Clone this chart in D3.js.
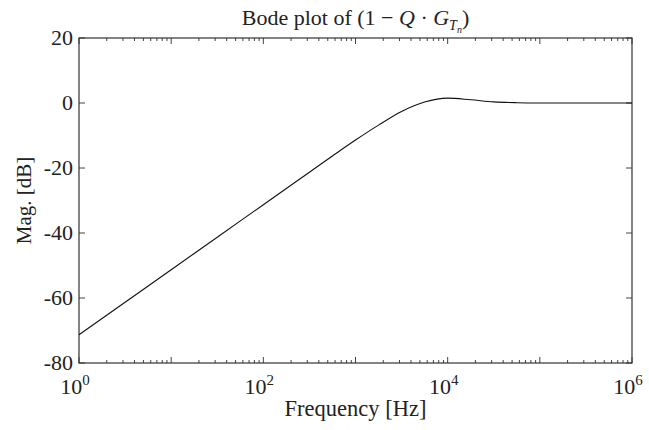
<!DOCTYPE html>
<html>
<head>
<meta charset="utf-8">
<script src="https://cdn.jsdelivr.net/npm/d3@7"></script>
<style>
  body { margin: 0; background: #fff; }
  text { font-family: "Liberation Serif", "DejaVu Serif", serif; fill: #222; }
</style>
</head>
<body>
<div id="chart"></div>
<script>
// magnitude: log10(frequency) -> dB
var logFreq = [0, 0.5, 1, 1.5, 2, 2.5, 2.75, 3, 3.25, 3.5, 3.75, 4, 4.25, 4.5, 4.75, 5, 5.5, 6];
var magDb = [-71.3, -61.3, -51.3, -41.3, -31.3, -21.3, -16.3, -11.4, -6.8, -2.6, 0.3, 1.5, 1.0, 0.35, 0.1, 0.02, 0, 0];
var yTicks = [20, 0, -20, -40, -60, -80];
var xTickExp = [0, 2, 4, 6];

var width = 649, height = 430;
var margin = { top: 38, right: 17, bottom: 67, left: 79 };

var svg = d3.select("#chart").append("svg")
    .attr("width", width)
    .attr("height", height);

var x = d3.scaleLog()
    .domain([1, 1e6])
    .range([margin.left, width - margin.right]);

var y = d3.scaleLinear()
    .domain([-80, 20])
    .range([height - margin.bottom, margin.top]);

var data = logFreq.map(function (d, i) { return { f: Math.pow(10, d), v: magDb[i] }; });

// minor ticks for the log axis
var minor = [];
for (var e = 0; e < 6; e++) {
    for (var k = 2; k <= 9; k++) minor.push(k * Math.pow(10, e));
}
var major = [1, 10, 100, 1e3, 1e4, 1e5, 1e6];

var tickColor = "#444";
var g = svg.append("g");

// major + minor x ticks, bottom and top, pointing inward
[[y.range()[0], -1], [y.range()[1], 1]].forEach(function (edge) {
    g.selectAll(null).data(major).enter().append("line")
        .attr("x1", function (d) { return x(d); })
        .attr("x2", function (d) { return x(d); })
        .attr("y1", edge[0])
        .attr("y2", edge[0] + edge[1] * 6)
        .attr("stroke", tickColor);
    g.selectAll(null).data(minor).enter().append("line")
        .attr("x1", function (d) { return x(d); })
        .attr("x2", function (d) { return x(d); })
        .attr("y1", edge[0])
        .attr("y2", edge[0] + edge[1] * 3)
        .attr("stroke", tickColor);
});

// y ticks, left and right
[[x.range()[0], 1], [x.range()[1], -1]].forEach(function (edge) {
    g.selectAll(null).data(yTicks).enter().append("line")
        .attr("x1", edge[0])
        .attr("x2", edge[0] + edge[1] * 6)
        .attr("y1", function (d) { return y(d); })
        .attr("y2", function (d) { return y(d); })
        .attr("stroke", tickColor);
});

// frame
svg.append("rect")
    .attr("x", x.range()[0])
    .attr("y", y.range()[1])
    .attr("width", x.range()[1] - x.range()[0])
    .attr("height", y.range()[0] - y.range()[1])
    .attr("fill", "none")
    .attr("stroke", "#333")
    .attr("stroke-width", 1.2);

// y tick labels
svg.selectAll(".ylab").data(yTicks).enter().append("text")
    .attr("class", "ylab")
    .attr("x", x.range()[0] - 6)
    .attr("y", function (d) { return y(d) + 7; })
    .attr("text-anchor", "end")
    .attr("font-size", 22)
    .text(function (d) { return d; });

// x tick labels 10^n
var xl = svg.selectAll(".xlab").data(xTickExp).enter().append("text")
    .attr("class", "xlab")
    .attr("x", function (d) { return x(Math.pow(10, d)) - 4; })
    .attr("y", y.range()[0] + 31)
    .attr("text-anchor", "middle")
    .attr("font-size", 22);
xl.append("tspan").text("10");
xl.append("tspan").attr("dy", -9).attr("font-size", 15).text(function (d) { return d; });

// curve
var line = d3.line()
    .x(function (d) { return x(d.f); })
    .y(function (d) { return y(d.v); })
    .curve(d3.curveMonotoneX);

svg.append("path")
    .datum(data)
    .attr("d", line)
    .attr("fill", "none")
    .attr("stroke", "#111")
    .attr("stroke-width", 1.1);

// axis titles
svg.append("text")
    .attr("x", (x.range()[0] + x.range()[1]) / 2)
    .attr("y", 416)
    .attr("text-anchor", "middle")
    .attr("font-size", 22.5)
    .text("Frequency [Hz]");

svg.append("text")
    .attr("transform", "translate(31," + ((y.range()[0] + y.range()[1]) / 2) + ") rotate(-90)")
    .attr("text-anchor", "middle")
    .attr("font-size", 21)
    .text("Mag. [dB]");

// title
var t = svg.append("text")
    .attr("x", (x.range()[0] + x.range()[1]) / 2)
    .attr("y", 25)
    .attr("text-anchor", "middle")
    .attr("font-size", 22);
t.append("tspan").text("Bode plot of (1 \u2212 ");
t.append("tspan").attr("font-style", "italic").text("Q");
t.append("tspan").text(" \u00b7 ");
t.append("tspan").attr("font-style", "italic").text("G");
t.append("tspan").attr("font-style", "italic").attr("font-size", 14).attr("dy", 5).text("T");
t.append("tspan").attr("font-style", "italic").attr("font-size", 10).attr("dy", 3).text("n");
t.append("tspan").attr("dy", -8).text(")");
</script>
</body>
</html>
